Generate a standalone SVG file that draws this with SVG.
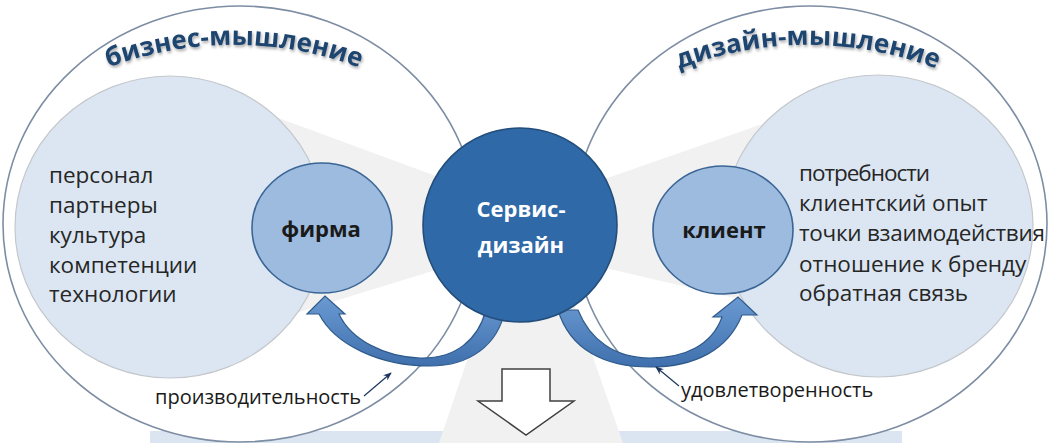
<svg xmlns="http://www.w3.org/2000/svg" width="1051" height="443" viewBox="0 0 1051 443">
<defs>
<style>
.outer{fill:#ffffff;stroke:#7d8da3;stroke-width:1.6}
.inner{fill:#dce6f2;stroke:#c4c8cc;stroke-width:1.2}
.small{fill:#9dbbdf;stroke:#3a6595;stroke-width:1.6}
.wedge{fill:#f1f1f1}
.body{font-family:"Open Sans","Liberation Sans",sans-serif;font-size:22.5px;fill:#262626}
.lbl{font-family:"Open Sans","Liberation Sans",sans-serif;font-size:20px;fill:#1a1a1a}
.bold{font-family:"Open Sans","Liberation Sans",sans-serif;font-weight:bold;font-size:22px;fill:#1a1a1a}
.title{font-family:"Open Sans","Liberation Sans",sans-serif;font-weight:bold;font-size:26px;fill:#1f4470}
.cw{font-family:"Open Sans","Liberation Sans",sans-serif;font-weight:bold;font-size:22px;fill:#ffffff}
.curve{fill:url(#cg);stroke:#2f5b8c;stroke-width:1.2}
.ptr{stroke:#1c3560;stroke-width:1.2;fill:none}
</style>
<linearGradient id="cg" x1="0" y1="0" x2="0" y2="1">
<stop offset="0" stop-color="#6b9ad2"/>
<stop offset="1" stop-color="#3f70ad"/>
</linearGradient>
<filter id="sh" x="-10%" y="-30%" width="120%" height="160%">
<feDropShadow dx="1" dy="2" stdDeviation="1.5" flood-color="#000" flood-opacity="0.35"/>
</filter>
<marker id="ah" viewBox="0 0 10 10" refX="9" refY="5" markerWidth="7" markerHeight="7" orient="auto">
<path d="M0,1 L10,5 L0,9 L3,5 Z" fill="#1c3560"/>
</marker>
<path id="arcL" d="M79,80 A360,360 0 0 1 389,80"/>
<path id="arcR" d="M653,80 A360,360 0 0 1 963,80"/>
</defs>

<rect x="150" y="431" width="752" height="12" fill="#dbe5f1"/>

<g id="business-thinking">
<ellipse class="outer" cx="240" cy="224" rx="237" ry="218"/>
</g>
<g id="design-thinking">
<ellipse class="outer" cx="810" cy="224" rx="237" ry="218"/>
</g>

<g id="wedges">
<polygon class="wedge" points="170,78 520,207 520,244 170,352"/>
<polygon class="wedge" points="880,83 524,207 524,249 880,332"/>
<polygon class="wedge" points="508,240 552,240 623,443 439,443"/>
</g>

<g id="firm-area">
<ellipse class="inner" cx="170" cy="227" rx="155" ry="151"/>
<text class="body" x="49" y="183">персонал</text>
<text class="body" x="49" y="213">партнеры</text>
<text class="body" x="49" y="243">культура</text>
<text class="body" x="49" y="273">компетенции</text>
<text class="body" x="49" y="302">технологии</text>
</g>
<g id="client-area">
<ellipse class="inner" cx="878" cy="226" rx="155" ry="151"/>
<text class="body" x="799" y="181" textLength="131">потребности</text>
<text class="body" x="799" y="211">клиентский опыт</text>
<text class="body" x="799" y="241" textLength="246">точки взаимодействия</text>
<text class="body" x="799" y="272">отношение к бренду</text>
<text class="body" x="799" y="301">обратная связь</text>
</g>

<g id="firm">
<ellipse class="small" cx="322" cy="228" rx="70" ry="65"/>
<text class="bold" x="321" y="237" text-anchor="middle">фирма</text>
</g>
<g id="client">
<ellipse class="small" cx="723" cy="230" rx="70" ry="64"/>
<text class="bold" x="724" y="238" text-anchor="middle">клиент</text>
</g>

<g id="connectors">
<path class="curve" d="M307,314 L325,296 L345,314 L339,314 C351,340 385,357 420,358 C455,359 478,340 486,310 L505,310 C498,345 470,366 430,366 C380,366 335,345 319,314 Z"/>
<path class="curve" d="M757,315 L738,297 L713,317 L722,317 C712,345 685,358 650,358 C615,358 590,340 578,310 L558,310 C570,350 605,367 650,367 C695,367 728,350 742,315 Z"/>
<line class="ptr" x1="364" y1="396" x2="391" y2="373" marker-end="url(#ah)"/>
<line class="ptr" x1="679" y1="386" x2="656" y2="367" marker-end="url(#ah)"/>
<path d="M502,369 L550,369 L550,401 L574,401 L526,435 L478,401 L502,401 Z" fill="#ffffff" stroke="#404040" stroke-width="1.5"/>
</g>

<g id="service-design">
<circle cx="520" cy="225" r="97" fill="#2f69a7" stroke="#234d7a" stroke-width="1.6"/>
<text class="cw" x="521" y="217" text-anchor="middle">Сервис-</text>
<text class="cw" x="521" y="253" text-anchor="middle">дизайн</text>
</g>

<g id="titles">
<text class="title" filter="url(#sh)"><textPath href="#arcL" startOffset="50%" text-anchor="middle">бизнес-мышление</textPath></text>
<text class="title" filter="url(#sh)"><textPath href="#arcR" startOffset="50%" text-anchor="middle">дизайн-мышление</textPath></text>
</g>

<g id="labels">
<text class="lbl" x="155" y="404">производительность</text>
<text class="lbl" x="681" y="397">удовлетворенность</text>
</g>
</svg>
